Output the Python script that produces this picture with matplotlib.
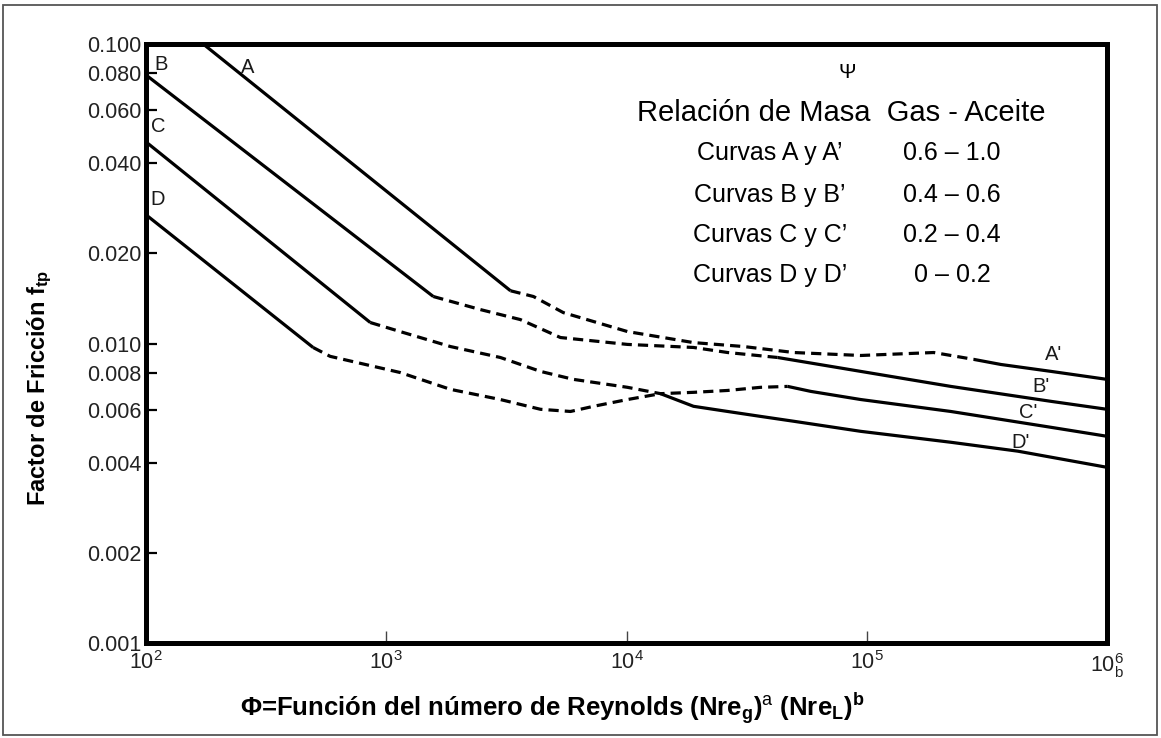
import matplotlib
matplotlib.use("Agg")
import matplotlib.pyplot as plt
from matplotlib.patches import Rectangle

plt.rcParams['font.family'] = ['Liberation Sans', 'DejaVu Sans']
plt.rcParams['mathtext.fontset'] = 'custom'
plt.rcParams['mathtext.rm'] = 'Liberation Sans'
plt.rcParams['mathtext.it'] = 'Liberation Sans:italic'
plt.rcParams['mathtext.bf'] = 'Liberation Sans:bold'

# --- datos (phi, f_tp) ---
# curva A / A'
a_solid_x = [173, 3290]
a_solid_f = [0.100, 0.0150]
a_dash_x = [3290, 4100, 5460, 10100, 19000, 30700, 49700, 94400, 190000, 279000]
a_dash_f = [0.0150, 0.01435, 0.01268, 0.01096, 0.01007, 0.00977, 0.00933, 0.00912, 0.00933, 0.00885]
a2_x = [279000, 362000, 585000, 1000000]
a2_f = [0.00885, 0.00851, 0.00807, 0.00759]

# curva B / B'
b_solid_x = [100, 1570]
b_solid_f = [0.0788, 0.01435]
b_dash_x = [1570, 2465, 3614, 5309, 10093, 19011, 26363, 42560]
b_dash_f = [0.01435, 0.01298, 0.01202, 0.01047, 0.00993, 0.00970, 0.00933, 0.00898]
b2_x = [42560, 94406, 223872, 584790, 1000000]
b2_f = [0.00898, 0.00807, 0.00719, 0.00641, 0.00603]

# curva C / C'
c_solid_x = [100, 858]
c_solid_f = [0.0471, 0.01175]
c_dash_x = [858, 1143, 1849, 2985, 4385, 6012, 10093, 13856, 19011, 26363, 36141, 46881]
c_dash_f = [0.01175, 0.01096, 0.00977, 0.00898, 0.00807, 0.00759, 0.00714, 0.0068, 0.00687, 0.00697, 0.00714, 0.00719]
c2_x = [46881, 58479, 94406, 223872, 584790, 1000000]
c2_f = [0.00719, 0.00692, 0.0065, 0.00593, 0.00525, 0.0049]

# curva D / D'
d_solid_x = [100, 496]
d_solid_f = [0.0269, 0.0097]
d_dash_x = [496, 584, 1143, 1849, 2985, 4385, 5848, 7288, 10093, 13856]
d_dash_f = [0.0097, 0.00906, 0.0080, 0.00703, 0.0065, 0.00603, 0.00593, 0.00617, 0.0065, 0.0068]
d2_x = [13856, 19011, 26363, 36141, 49659, 94406, 223872, 425598, 1000000]
d2_f = [0.0068, 0.00617, 0.00593, 0.00571, 0.0055, 0.00509, 0.00468, 0.00437, 0.00386]

curve_names = ['A', 'B', 'C', 'D', "A'", "B'", "C'", "D'"]
name_x = [264, 116, 112, 112, 601000, 531000, 469000, 438000]
name_f = [0.0832, 0.0851, 0.0529, 0.0302, 0.00919, 0.00719, 0.00589, 0.00468]

yticks = [0.1, 0.08, 0.06, 0.04, 0.02, 0.01, 0.008, 0.006, 0.004, 0.002, 0.001]
ytick_labels = ['0.100', '0.080', '0.060', '0.040', '0.020', '0.010',
                '0.008', '0.006', '0.004', '0.002', '0.001']
xticks = [1e2, 1e3, 1e4, 1e5, 1e6]
xtick_labels = [r'$10^{2}$', r'$10^{3}$', r'$10^{4}$', r'$10^{5}$', r'$10^{6}_{\mathrm{b}}$']

rows_left = ["Curvas A y A\u2019", "Curvas B y B\u2019", "Curvas C y C\u2019", "Curvas D y D\u2019"]
rows_right = ["0.6 \u2013 1.0", "0.4 \u2013 0.6", "0.2 \u2013 0.4", "0 \u2013 0.2"]

W, H = 1161, 738
fig = plt.figure(figsize=(W / 100, H / 100), dpi=100)
ax = fig.add_axes([146 / W, 1 - 643 / H, (1107 - 146) / W, (643 - 44) / H])
ax.set_xscale('log')
ax.set_yscale('log')
ax.set_xlim(1e2, 1e6)
ax.set_ylim(0.001, 0.1)

lw = 2.3
dash = (0, (3.2, 1.9))
for xs, fs in [(a_solid_x, a_solid_f), (b_solid_x, b_solid_f), (c_solid_x, c_solid_f),
               (d_solid_x, d_solid_f), (a2_x, a2_f), (b2_x, b2_f), (c2_x, c2_f), (d2_x, d2_f)]:
    ax.plot(xs, fs, color='black', lw=lw, solid_capstyle='butt')
for xs, fs in [(a_dash_x, a_dash_f), (b_dash_x, b_dash_f), (c_dash_x, c_dash_f), (d_dash_x, d_dash_f)]:
    ax.plot(xs, fs, color='black', lw=lw, linestyle=dash)

for n, x, f in zip(curve_names, name_x, name_f):
    ax.text(x, f, n, fontsize=14.5, ha='center', va='center', color='#1a1a1a')

for s in ax.spines.values():
    s.set_linewidth(3.6)
ax.minorticks_off()
ax.set_yticks(yticks)
ax.set_yticklabels(ytick_labels, fontsize=15.5, color='#222222')
ax.set_xticks(xticks)
ax.set_xticklabels(xtick_labels, fontsize=15.5, color='#222222')
ax.tick_params(axis='y', direction='in', length=8, width=1.6, pad=3)
ax.tick_params(axis='x', direction='in', length=9, width=1.0, pad=6, color='#444444')

fig.text(40 / W, 1 - 388 / H, r'Factor de Fricción $\mathbf{f}_{\mathbf{tp}}$',
         rotation=90, fontsize=17, fontweight='bold', ha='center', va='center')
fig.text(552 / W, 1 - 708 / H,
         r'Φ=Función del número de Reynolds (Nre$_{\mathbf{g}}$)$^{\mathrm{a}}$ (Nre$_{\mathbf{L}}$)$^{\mathbf{b}}$',
         fontsize=18.5, fontweight='bold', ha='center', va='center')

fig.text(847 / W, 1 - 72 / H, 'Ψ', fontsize=15, ha='center', va='center')
fig.text(841 / W, 1 - 113 / H, 'Relación de Masa  Gas - Aceite', fontsize=21, ha='center', va='center')
row_y = [153, 195, 235, 275]
for ry, l, r in zip(row_y, rows_left, rows_right):
    fig.text(770 / W, 1 - ry / H, l, fontsize=18, ha='center', va='center')
    fig.text(952 / W, 1 - ry / H, r, fontsize=18, ha='center', va='center')

fig.patches.append(Rectangle((3 / W, 3 / H), (1157 - 3) / W, (735 - 5) / H,
                             transform=fig.transFigure, fill=False, ec='#555555', lw=1.3))

fig.savefig('out.png', dpi=100)
